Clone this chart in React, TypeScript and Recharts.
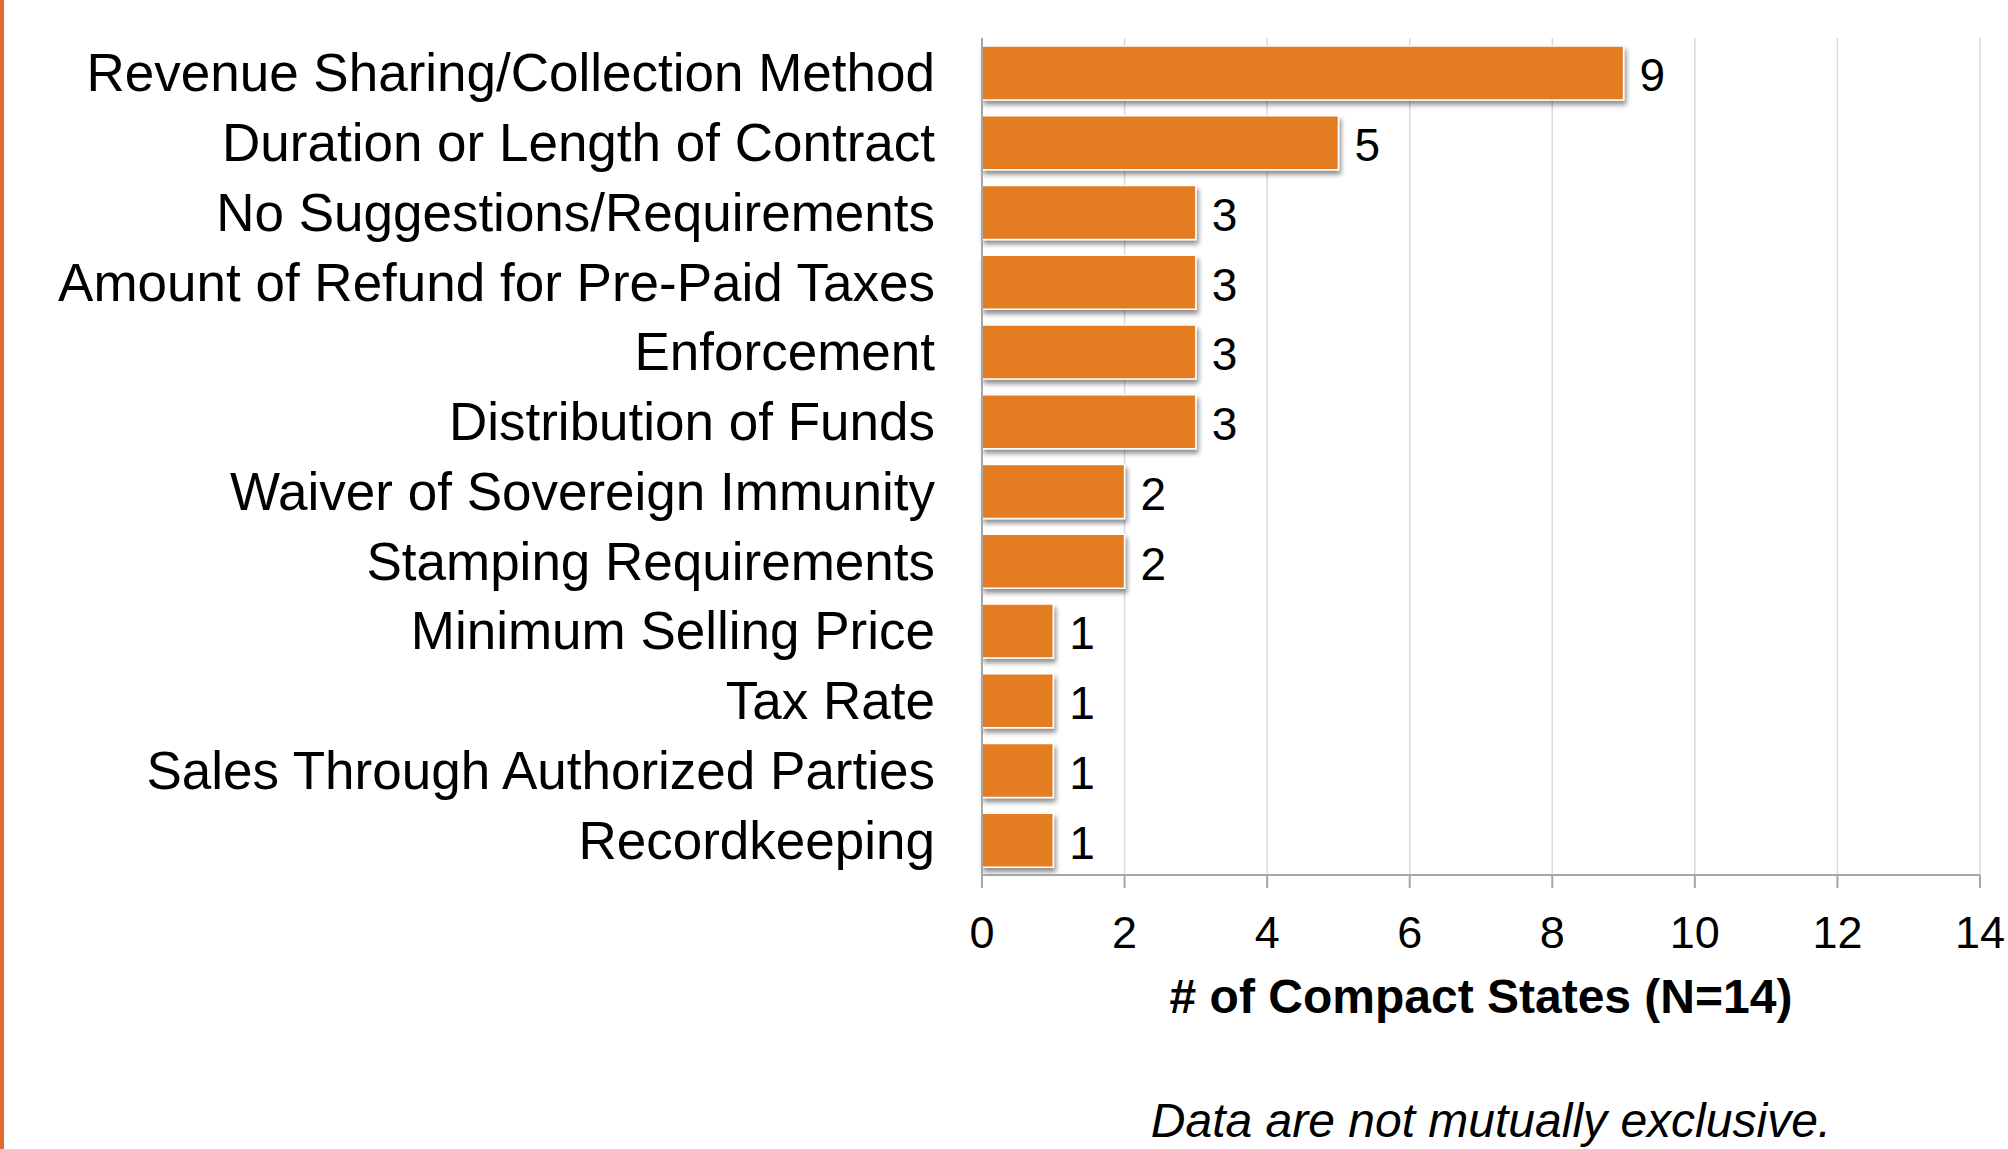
import React from 'react';
import { BarChart, Bar, XAxis, YAxis, CartesianGrid, LabelList } from 'recharts';

// Topics raised by compact states, most frequent first
const categories: string[] = [
  'Revenue Sharing/Collection Method',
  'Duration or Length of Contract',
  'No Suggestions/Requirements',
  'Amount of Refund for Pre-Paid Taxes',
  'Enforcement',
  'Distribution of Funds',
  'Waiver of Sovereign Immunity',
  'Stamping Requirements',
  'Minimum Selling Price',
  'Tax Rate',
  'Sales Through Authorized Parties',
  'Recordkeeping',
];

const stateCounts: number[] = [9, 5, 3, 3, 3, 3, 2, 2, 1, 1, 1, 1];

const xTicks: number[] = [0, 2, 4, 6, 8, 10, 12, 14];

const axisTitle = '# of Compact States (N=14)';
const footnote = 'Data are not mutually exclusive.';

const data = categories.map((name, i) => ({ name, value: stateCounts[i] }));

const FONT = '"Liberation Sans", Arial, Helvetica, sans-serif';
const BAR_COLOR = '#E47C24';

const CategoryTick = (props: any) => {
  const { x, y, payload } = props;
  return (
    <text
      x={x - 47}
      y={y}
      textAnchor="end"
      dominantBaseline="central"
      fontFamily={FONT}
      fontSize={53}
      fill="#000"
    >
      {payload.value}
    </text>
  );
};

const ValueTick = (props: any) => {
  const { x, y, payload } = props;
  return (
    <text
      x={x}
      y={y + 60}
      textAnchor="middle"
      fontFamily={FONT}
      fontSize={45}
      fill="#000"
    >
      {payload.value}
    </text>
  );
};

const ShadowBar = (props: any) => {
  const { x, y, width, height, index } = props;
  if (!width || width <= 0) return null;
  return (
    <g>
      {index === 0 && (
        <defs>
          <filter id="barShadow" x="-10%" y="-20%" width="130%" height="160%">
            <feGaussianBlur in="SourceAlpha" stdDeviation="2.5" />
            <feOffset dx="2" dy="4" result="blur" />
            <feComponentTransfer>
              <feFuncA type="linear" slope="0.45" />
            </feComponentTransfer>
            <feMerge>
              <feMergeNode />
              <feMergeNode in="SourceGraphic" />
            </feMerge>
          </filter>
        </defs>
      )}
      <rect
        x={x}
        y={y}
        width={width}
        height={height}
        fill={BAR_COLOR}
        stroke="#FFFFFF"
        strokeWidth={1.5}
        filter="url(#barShadow)"
      />
    </g>
  );
};

const AxisTitle = (props: any) => {
  const { viewBox } = props;
  const cx = viewBox.x + viewBox.width / 2;
  return (
    <text
      x={cx}
      y={viewBox.y + 138}
      textAnchor="middle"
      fontFamily={FONT}
      fontSize={48}
      fontWeight="bold"
      fill="#000"
    >
      {axisTitle}
    </text>
  );
};

export default function App() {
  return (
    <div
      style={{
        position: 'absolute',
        left: 0,
        top: 0,
        width: 2008,
        height: 1149,
        background: '#fff',
        overflow: 'hidden',
      }}
    >
      {/* accent stripe along the left edge */}
      <div
        style={{
          position: 'absolute',
          left: 0,
          top: 0,
          width: 4,
          height: 1149,
          background: '#E5692C',
        }}
      />
      <BarChart
        width={2008}
        height={1149}
        data={data}
        layout="vertical"
        margin={{ top: 38, right: 28, bottom: 124, left: 0 }}
        barSize={54}
      >
        <CartesianGrid horizontal={false} stroke="#D9D9D9" strokeWidth={1.5} />
        <XAxis
          type="number"
          domain={[0, 14]}
          ticks={xTicks}
          interval={0}
          height={150}
          tickSize={13}
          tickMargin={0}
          axisLine={{ stroke: '#A6A6A6', strokeWidth: 2 }}
          tickLine={{ stroke: '#A6A6A6', strokeWidth: 2 }}
          tick={<ValueTick />}
          label={<AxisTitle />}
        />
        <YAxis
          type="category"
          dataKey="name"
          width={982}
          tickSize={0}
          tickMargin={0}
          interval={0}
          axisLine={{ stroke: '#A6A6A6', strokeWidth: 2 }}
          tickLine={false}
          tick={<CategoryTick />}
        />
        <Bar dataKey="value" isAnimationActive={false} shape={<ShadowBar />}>
          <LabelList
            dataKey="value"
            position="right"
            offset={16}
            dy={2}
            fontFamily={FONT}
            fontSize={46}
            fill="#000"
          />
        </Bar>
      </BarChart>
      <div
        style={{
          position: 'absolute',
          left: 1491,
          top: 1093,
          transform: 'translateX(-50%)',
          whiteSpace: 'nowrap',
          fontFamily: FONT,
          fontSize: 48,
          fontStyle: 'italic',
          lineHeight: '55px',
          color: '#000',
        }}
      >
        {footnote}
      </div>
    </div>
  );
}
